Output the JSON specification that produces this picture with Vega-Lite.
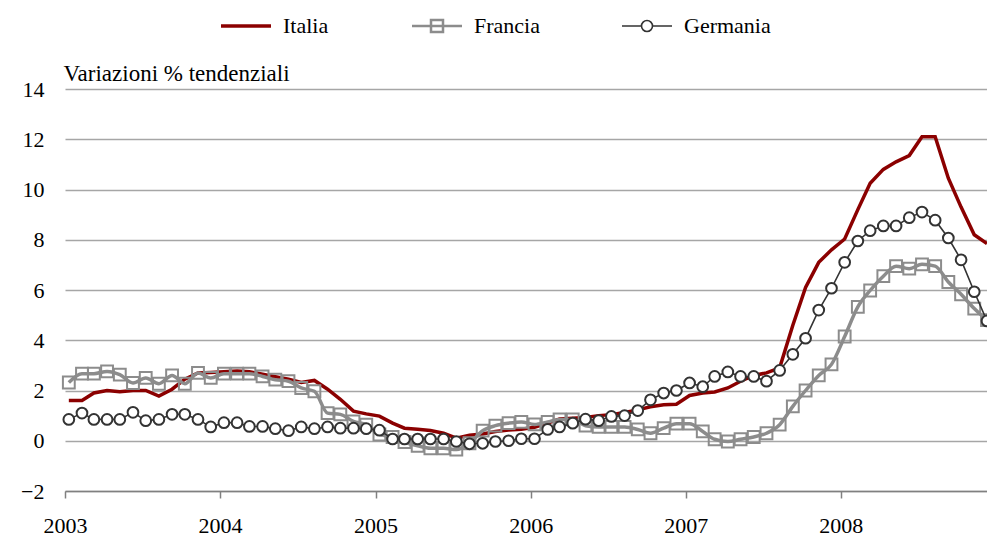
{
  "$schema": "https://vega.github.io/schema/vega-lite/v6.json",
  "autosize": {"type": "none"},
  "padding": {"left": 65, "top": 89, "right": 0, "bottom": 46},
  "width": 922,
  "height": 402,
  "background": "white",
  "config": {
    "view": {"stroke": null},
    "font": "Liberation Serif"
  },
  "data": {
    "values": [
      {"date": "2003-01-10", "Italia": 1.6, "Francia": 2.32, "Germania": 0.85},
      {"date": "2003-02-10", "Italia": 1.6, "Francia": 2.67, "Germania": 1.1},
      {"date": "2003-03-10", "Italia": 1.9, "Francia": 2.67, "Germania": 0.85},
      {"date": "2003-04-10", "Italia": 2.0, "Francia": 2.76, "Germania": 0.85},
      {"date": "2003-05-10", "Italia": 1.95, "Francia": 2.63, "Germania": 0.85},
      {"date": "2003-06-10", "Italia": 2.0, "Francia": 2.3, "Germania": 1.13},
      {"date": "2003-07-10", "Italia": 2.0, "Francia": 2.5, "Germania": 0.8},
      {"date": "2003-08-10", "Italia": 1.78, "Francia": 2.27, "Germania": 0.85},
      {"date": "2003-09-10", "Italia": 2.05, "Francia": 2.6, "Germania": 1.05},
      {"date": "2003-10-10", "Italia": 2.45, "Francia": 2.27, "Germania": 1.05},
      {"date": "2003-11-10", "Italia": 2.7, "Francia": 2.7, "Germania": 0.85},
      {"date": "2003-12-10", "Italia": 2.72, "Francia": 2.5, "Germania": 0.55},
      {"date": "2004-01-10", "Italia": 2.75, "Francia": 2.67, "Germania": 0.72},
      {"date": "2004-02-10", "Italia": 2.78, "Francia": 2.67, "Germania": 0.72},
      {"date": "2004-03-10", "Italia": 2.75, "Francia": 2.67, "Germania": 0.57},
      {"date": "2004-04-10", "Italia": 2.65, "Francia": 2.56, "Germania": 0.57},
      {"date": "2004-05-10", "Italia": 2.55, "Francia": 2.43, "Germania": 0.48},
      {"date": "2004-06-10", "Italia": 2.45, "Francia": 2.37, "Germania": 0.4},
      {"date": "2004-07-10", "Italia": 2.32, "Francia": 2.1, "Germania": 0.55},
      {"date": "2004-08-10", "Italia": 2.4, "Francia": 1.97, "Germania": 0.48},
      {"date": "2004-09-10", "Italia": 2.05, "Francia": 1.1, "Germania": 0.55},
      {"date": "2004-10-10", "Italia": 1.65, "Francia": 1.05, "Germania": 0.5},
      {"date": "2004-11-10", "Italia": 1.18, "Francia": 0.77, "Germania": 0.5},
      {"date": "2004-12-10", "Italia": 1.07, "Francia": 0.64, "Germania": 0.48},
      {"date": "2005-01-10", "Italia": 0.98, "Francia": 0.25, "Germania": 0.42},
      {"date": "2005-02-10", "Italia": 0.7, "Francia": 0.15, "Germania": 0.07},
      {"date": "2005-03-10", "Italia": 0.5, "Francia": -0.05, "Germania": 0.07},
      {"date": "2005-04-10", "Italia": 0.46, "Francia": -0.2, "Germania": 0.07},
      {"date": "2005-05-10", "Italia": 0.41, "Francia": -0.3, "Germania": 0.07},
      {"date": "2005-06-10", "Italia": 0.3, "Francia": -0.3, "Germania": 0.07},
      {"date": "2005-07-10", "Italia": 0.1, "Francia": -0.35, "Germania": -0.03},
      {"date": "2005-08-10", "Italia": 0.22, "Francia": -0.1, "Germania": -0.12},
      {"date": "2005-09-10", "Italia": 0.27, "Francia": 0.4, "Germania": -0.1},
      {"date": "2005-10-10", "Italia": 0.37, "Francia": 0.6, "Germania": -0.03},
      {"date": "2005-11-10", "Italia": 0.43, "Francia": 0.7, "Germania": 0.0},
      {"date": "2005-12-10", "Italia": 0.46, "Francia": 0.75, "Germania": 0.08},
      {"date": "2006-01-10", "Italia": 0.54, "Francia": 0.65, "Germania": 0.08},
      {"date": "2006-02-10", "Italia": 0.7, "Francia": 0.75, "Germania": 0.45},
      {"date": "2006-03-10", "Italia": 0.87, "Francia": 0.85, "Germania": 0.55},
      {"date": "2006-04-10", "Italia": 0.9, "Francia": 0.85, "Germania": 0.7},
      {"date": "2006-05-10", "Italia": 0.93, "Francia": 0.6, "Germania": 0.86},
      {"date": "2006-06-10", "Italia": 1.0, "Francia": 0.55, "Germania": 0.8},
      {"date": "2006-07-10", "Italia": 1.04, "Francia": 0.55, "Germania": 0.97},
      {"date": "2006-08-10", "Italia": 1.13, "Francia": 0.55, "Germania": 1.0},
      {"date": "2006-09-10", "Italia": 1.23, "Francia": 0.45, "Germania": 1.2},
      {"date": "2006-10-10", "Italia": 1.35, "Francia": 0.3, "Germania": 1.63},
      {"date": "2006-11-10", "Italia": 1.43, "Francia": 0.5, "Germania": 1.9},
      {"date": "2006-12-10", "Italia": 1.45, "Francia": 0.68, "Germania": 2.0},
      {"date": "2007-01-10", "Italia": 1.8, "Francia": 0.68, "Germania": 2.3},
      {"date": "2007-02-10", "Italia": 1.9, "Francia": 0.37, "Germania": 2.15},
      {"date": "2007-03-10", "Italia": 1.94, "Francia": 0.06, "Germania": 2.56},
      {"date": "2007-04-10", "Italia": 2.1, "Francia": -0.03, "Germania": 2.74},
      {"date": "2007-05-10", "Italia": 2.37, "Francia": 0.06, "Germania": 2.56},
      {"date": "2007-06-10", "Italia": 2.6, "Francia": 0.15, "Germania": 2.56},
      {"date": "2007-07-10", "Italia": 2.7, "Francia": 0.3, "Germania": 2.37},
      {"date": "2007-08-10", "Italia": 2.9, "Francia": 0.64, "Germania": 2.8},
      {"date": "2007-09-10", "Italia": 4.6, "Francia": 1.37, "Germania": 3.44},
      {"date": "2007-10-10", "Italia": 6.1, "Francia": 2.0, "Germania": 4.08},
      {"date": "2007-11-10", "Italia": 7.1, "Francia": 2.6, "Germania": 5.2},
      {"date": "2007-12-10", "Italia": 7.6, "Francia": 3.04, "Germania": 6.07},
      {"date": "2008-01-10", "Italia": 8.03, "Francia": 4.15, "Germania": 7.1},
      {"date": "2008-02-10", "Italia": 9.2, "Francia": 5.33, "Germania": 7.95},
      {"date": "2008-03-10", "Italia": 10.25, "Francia": 5.98, "Germania": 8.36},
      {"date": "2008-04-10", "Italia": 10.8, "Francia": 6.55, "Germania": 8.55},
      {"date": "2008-05-10", "Italia": 11.1, "Francia": 6.95, "Germania": 8.55},
      {"date": "2008-06-10", "Italia": 11.35, "Francia": 6.85, "Germania": 8.88},
      {"date": "2008-07-10", "Italia": 12.1, "Francia": 7.02, "Germania": 9.1},
      {"date": "2008-08-10", "Italia": 12.1, "Francia": 6.95, "Germania": 8.78},
      {"date": "2008-09-10", "Italia": 10.45, "Francia": 6.32, "Germania": 8.07},
      {"date": "2008-10-10", "Italia": 9.3, "Francia": 5.83, "Germania": 7.2},
      {"date": "2008-11-10", "Italia": 8.2, "Francia": 5.26, "Germania": 5.93},
      {"date": "2008-12-10", "Italia": 7.85, "Francia": 4.8, "Germania": 4.77}
    ]
  },
  "transform": [
    {"fold": ["Italia", "Francia", "Germania"], "as": ["serie", "valore"]}
  ],
  "encoding": {
    "x": {
      "field": "date",
      "type": "temporal",
      "scale": {
        "type": "utc",
        "domain": [
          {"year": 2003, "month": 1, "date": 1, "utc": true},
          {"year": 2008, "month": 12, "date": 10, "utc": true}
        ]
      },
      "axis": {
        "title": null,
        "values": [
          {"year": 2003, "month": 1, "date": 1, "utc": true},
          {"year": 2004, "month": 1, "date": 1, "utc": true},
          {"year": 2005, "month": 1, "date": 1, "utc": true},
          {"year": 2006, "month": 1, "date": 1, "utc": true},
          {"year": 2007, "month": 1, "date": 1, "utc": true},
          {"year": 2008, "month": 1, "date": 1, "utc": true}
        ],
        "format": "%Y",
        "formatType": "utc",
        "grid": false,
        "domainColor": "#808080",
        "domainWidth": 1.5,
        "tickColor": "#808080",
        "tickWidth": 1.5,
        "tickSize": 7,
        "labelPadding": 17,
        "labelFont": "Liberation Serif",
        "labelFontSize": 22,
        "labelColor": "black",
        "labelFlush": false,
        "labelOverlap": false
      }
    },
    "y": {
      "field": "valore",
      "type": "quantitative",
      "scale": {"domain": [-2, 14], "nice": false, "zero": false},
      "axis": {
        "title": "Variazioni % tendenziali",
        "titleAngle": 0,
        "titleAlign": "left",
        "titleBaseline": "alphabetic",
        "titleX": -2,
        "titleY": -9,
        "titleFont": "Liberation Serif",
        "titleFontSize": 23,
        "titleFontWeight": "normal",
        "titleColor": "black",
        "values": [-2, 0, 2, 4, 6, 8, 10, 12, 14],
        "domain": false,
        "ticks": false,
        "tickSize": 0,
        "labelPadding": 21,
        "grid": true,
        "gridColor": "#a6a6a6",
        "gridWidth": 1.3,
        "labelFont": "Liberation Serif",
        "labelFontSize": 22,
        "labelColor": "black"
      }
    }
  },
  "layer": [
    {
      "transform": [{"filter": "datum.serie === 'Italia'"}],
      "mark": {"type": "line", "strokeWidth": 3.5, "strokeJoin": "miter"},
      "encoding": {
        "color": {
          "field": "serie",
          "type": "nominal",
          "scale": {
            "domain": ["Italia", "Francia", "Germania"],
            "range": ["#8B0000", "#8C8C8C", "#333333"]
          },
          "legend": {
            "orient": "none",
            "legendX": 170,
            "legendY": -74,
            "direction": "horizontal",
            "columns": 3,
            "gridAlign": "none",
            "columnPadding": 78,
            "title": null,
            "labelFont": "Liberation Serif",
            "labelFontSize": 22,
            "labelColor": "black",
            "labelOffset": 26,
            "symbolSize": 2500,
            "encode": {
              "symbols": {
                "update": {
                  "shape": {"signal": "datum.value === 'Italia' ? 'M-1,0H1' : datum.value === 'Francia' ? 'M-1,0H1M-0.24,-0.24H0.24V0.24H-0.24Z' : 'M-1,0H-0.22M0.22,0H1M-0.22,0A0.22,0.22 0 1,1 0.22,0A0.22,0.22 0 1,1 -0.22,0Z'"},
                  "strokeWidth": {"signal": "datum.value === 'Italia' ? 3.5 : datum.value === 'Francia' ? 2.5 : 1.6"},
                  "fill": {"signal": "datum.value === 'Germania' ? 'white' : 'transparent'"},
                  "size": {"value": 2500}
                }
              }
            }
          }
        }
      }
    },
    {
      "transform": [{"filter": "datum.serie === 'Francia'"}],
      "mark": {"type": "line", "strokeWidth": 3.5, "interpolate": "monotone"},
      "encoding": {
        "color": {"field": "serie", "type": "nominal"}
      }
    },
    {
      "transform": [{"filter": "datum.serie === 'Francia'"}],
      "mark": {"type": "point", "shape": "square", "filled": false, "size": 140, "strokeWidth": 2, "opacity": 1},
      "encoding": {
        "color": {"field": "serie", "type": "nominal"}
      }
    },
    {
      "transform": [{"filter": "datum.serie === 'Germania'"}],
      "mark": {"type": "line", "strokeWidth": 1.6},
      "encoding": {
        "color": {"field": "serie", "type": "nominal"}
      }
    },
    {
      "transform": [{"filter": "datum.serie === 'Germania'"}],
      "mark": {"type": "point", "shape": "circle", "filled": true, "fill": "white", "stroke": "#333333", "size": 115, "strokeWidth": 2, "opacity": 1}
    }
  ]
}
